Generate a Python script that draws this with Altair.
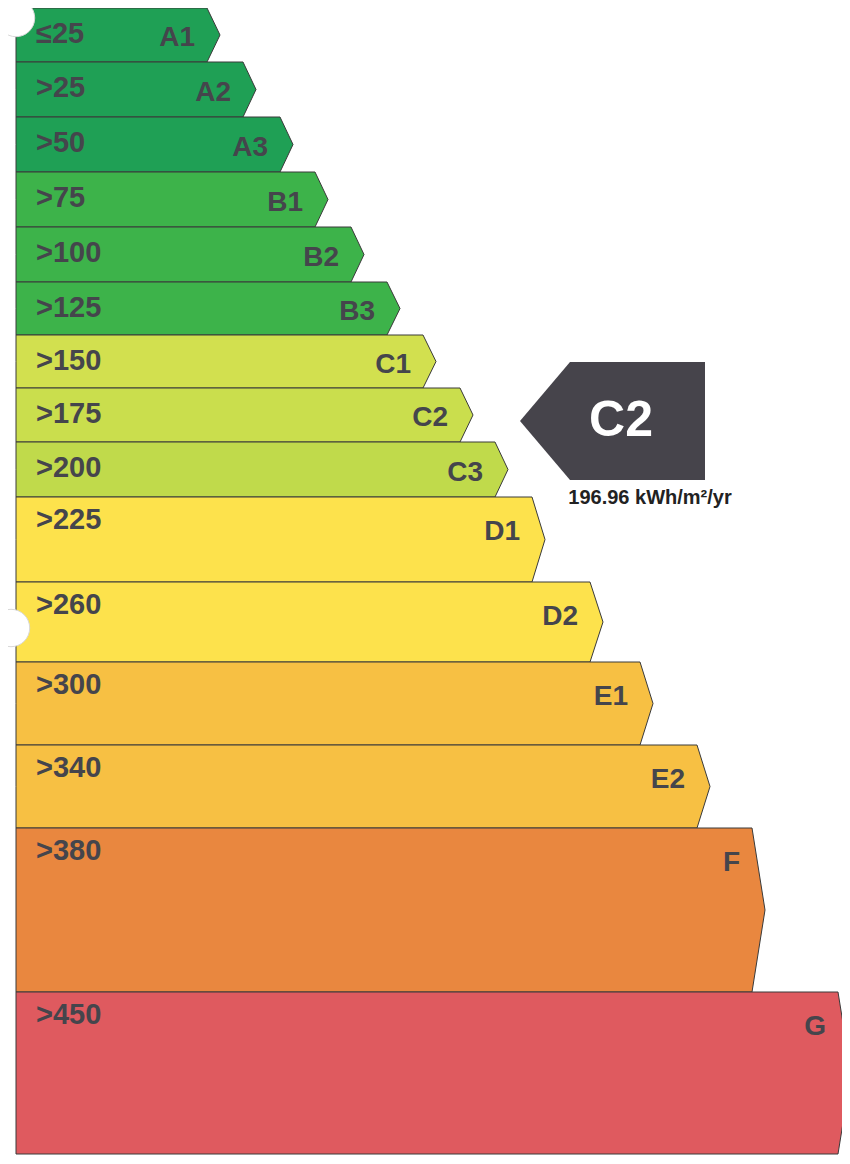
import altair as alt
import pandas as pd

grades = ["A1", "A2", "A3", "B1", "B2", "B3", "C1", "C2", "C3",
          "D1", "D2", "E1", "E2", "F", "G"]
thresholds = ["≤25", ">25", ">50", ">75", ">100", ">125", ">150", ">175", ">200",
              ">225", ">260", ">300", ">340", ">380", ">450"]
# band boundaries (label units, top to bottom) and band lengths
band_edges = [0, 54, 109, 164, 219, 274, 327, 380, 434, 489, 574, 654, 737, 820, 984, 1146]
band_ends = [199, 235, 272, 307, 343, 379, 415, 452, 487, 524, 582, 632, 689, 744, 830]
band_colors = ["#1fa055", "#1fa055", "#1fa055",
               "#3db34a", "#3db34a", "#3db34a",
               "#d2e04f", "#cade4d", "#c0da4b",
               "#fde24c", "#fde24c",
               "#f7c043", "#f7c043",
               "#e9873f", "#df5a5f"]
rating_value = 196.96
rating_grade = "C2"
rating_unit = "kWh/m²/yr"

W, H = 834, 1148
LEFT = 8
TIP = 13

area_rows, thr_rows, grade_rows = [], [], []
for i, g in enumerate(grades):
    top, bot = band_edges[i], band_edges[i + 1]
    h = bot - top
    body = band_ends[i]
    area_rows += [
        dict(grade=g, y=top, x=body, x0=LEFT),
        dict(grade=g, y=(top + bot) / 2, x=body + TIP, x0=LEFT),
        dict(grade=g, y=bot, x=body, x0=LEFT),
    ]
    thr_rows.append(dict(label=thresholds[i], x=LEFT + 20, y=top + (26 if h < 60 else 23)))
    grade_rows.append(dict(label=g, x=body - 12, y=top + min(h / 2 + 3, 35)))

area_df = pd.DataFrame(area_rows)
thr_df = pd.DataFrame(thr_rows)
grade_df = pd.DataFrame(grade_rows)

# indicator arrow next to the rated band
ri = grades.index(rating_grade)
rmid = (band_edges[ri] + band_edges[ri + 1]) / 2 + 6
ind_df = pd.DataFrame([
    dict(y=rmid - 59, x=562, x0=697),
    dict(y=rmid, x=512, x0=697),
    dict(y=rmid + 59, x=562, x0=697),
])
ind_text_df = pd.DataFrame([dict(label=rating_grade, x=613, y=rmid)])
value_df = pd.DataFrame([dict(label=f"{rating_value:.2f} {rating_unit}", x=642, y=rmid + 77)])

holes_df = pd.DataFrame([dict(x=8, y=10), dict(x=3, y=620)])

xs = alt.Scale(domain=[0, W], nice=False, zero=False)
ys = alt.Scale(domain=[0, H], nice=False, zero=False, reverse=True)
X = lambda f: alt.X(f, type="quantitative", scale=xs, axis=None)
Y = lambda f: alt.Y(f, type="quantitative", scale=ys, axis=None)

bands = alt.Chart(area_df).mark_area(
    orient="horizontal", stroke="#3a3a3a", strokeWidth=1, opacity=1
).encode(
    y=Y("y"), x=X("x"), x2="x0:Q",
    color=alt.Color("grade:N", scale=alt.Scale(domain=grades, range=band_colors), legend=None),
    detail="grade:N",
)

thr_text = alt.Chart(thr_df).mark_text(
    align="left", baseline="middle", font="Liberation Sans", fontWeight="bold",
    fontSize=29, color="#45454c"
).encode(x=X("x"), y=Y("y"), text="label:N")

grade_text = alt.Chart(grade_df).mark_text(
    align="right", baseline="middle", font="Liberation Sans", fontWeight="bold",
    fontSize=28, color="#45454c"
).encode(x=X("x"), y=Y("y"), text="label:N")

indicator = alt.Chart(ind_df).mark_area(
    orient="horizontal", color="#46444b", opacity=1
).encode(y=Y("y"), x=X("x"), x2="x0:Q")

ind_text = alt.Chart(ind_text_df).mark_text(
    align="center", baseline="middle", font="Liberation Sans", fontWeight="bold",
    fontSize=50, color="white"
).encode(x=X("x"), y=Y("y"), text="label:N")

value_text = alt.Chart(value_df).mark_text(
    align="center", baseline="middle", font="Liberation Sans", fontWeight="bold",
    fontSize=20, color="#222222"
).encode(x=X("x"), y=Y("y"), text="label:N")

holes = alt.Chart(holes_df).mark_point(
    filled=True, fill="white", stroke="#d8d8d8", strokeWidth=1, opacity=1, size=1400, shape="circle"
).encode(x=X("x"), y=Y("y"))

chart = alt.layer(
    bands, thr_text, grade_text, indicator, ind_text, value_text, holes
).properties(
    width=W, height=H, padding=0, autosize=alt.AutoSizeParams(type="none"),
    background="white"
).configure_view(stroke=None)

chart.save("out.html", embed_options={"renderer": "svg", "actions": False})
